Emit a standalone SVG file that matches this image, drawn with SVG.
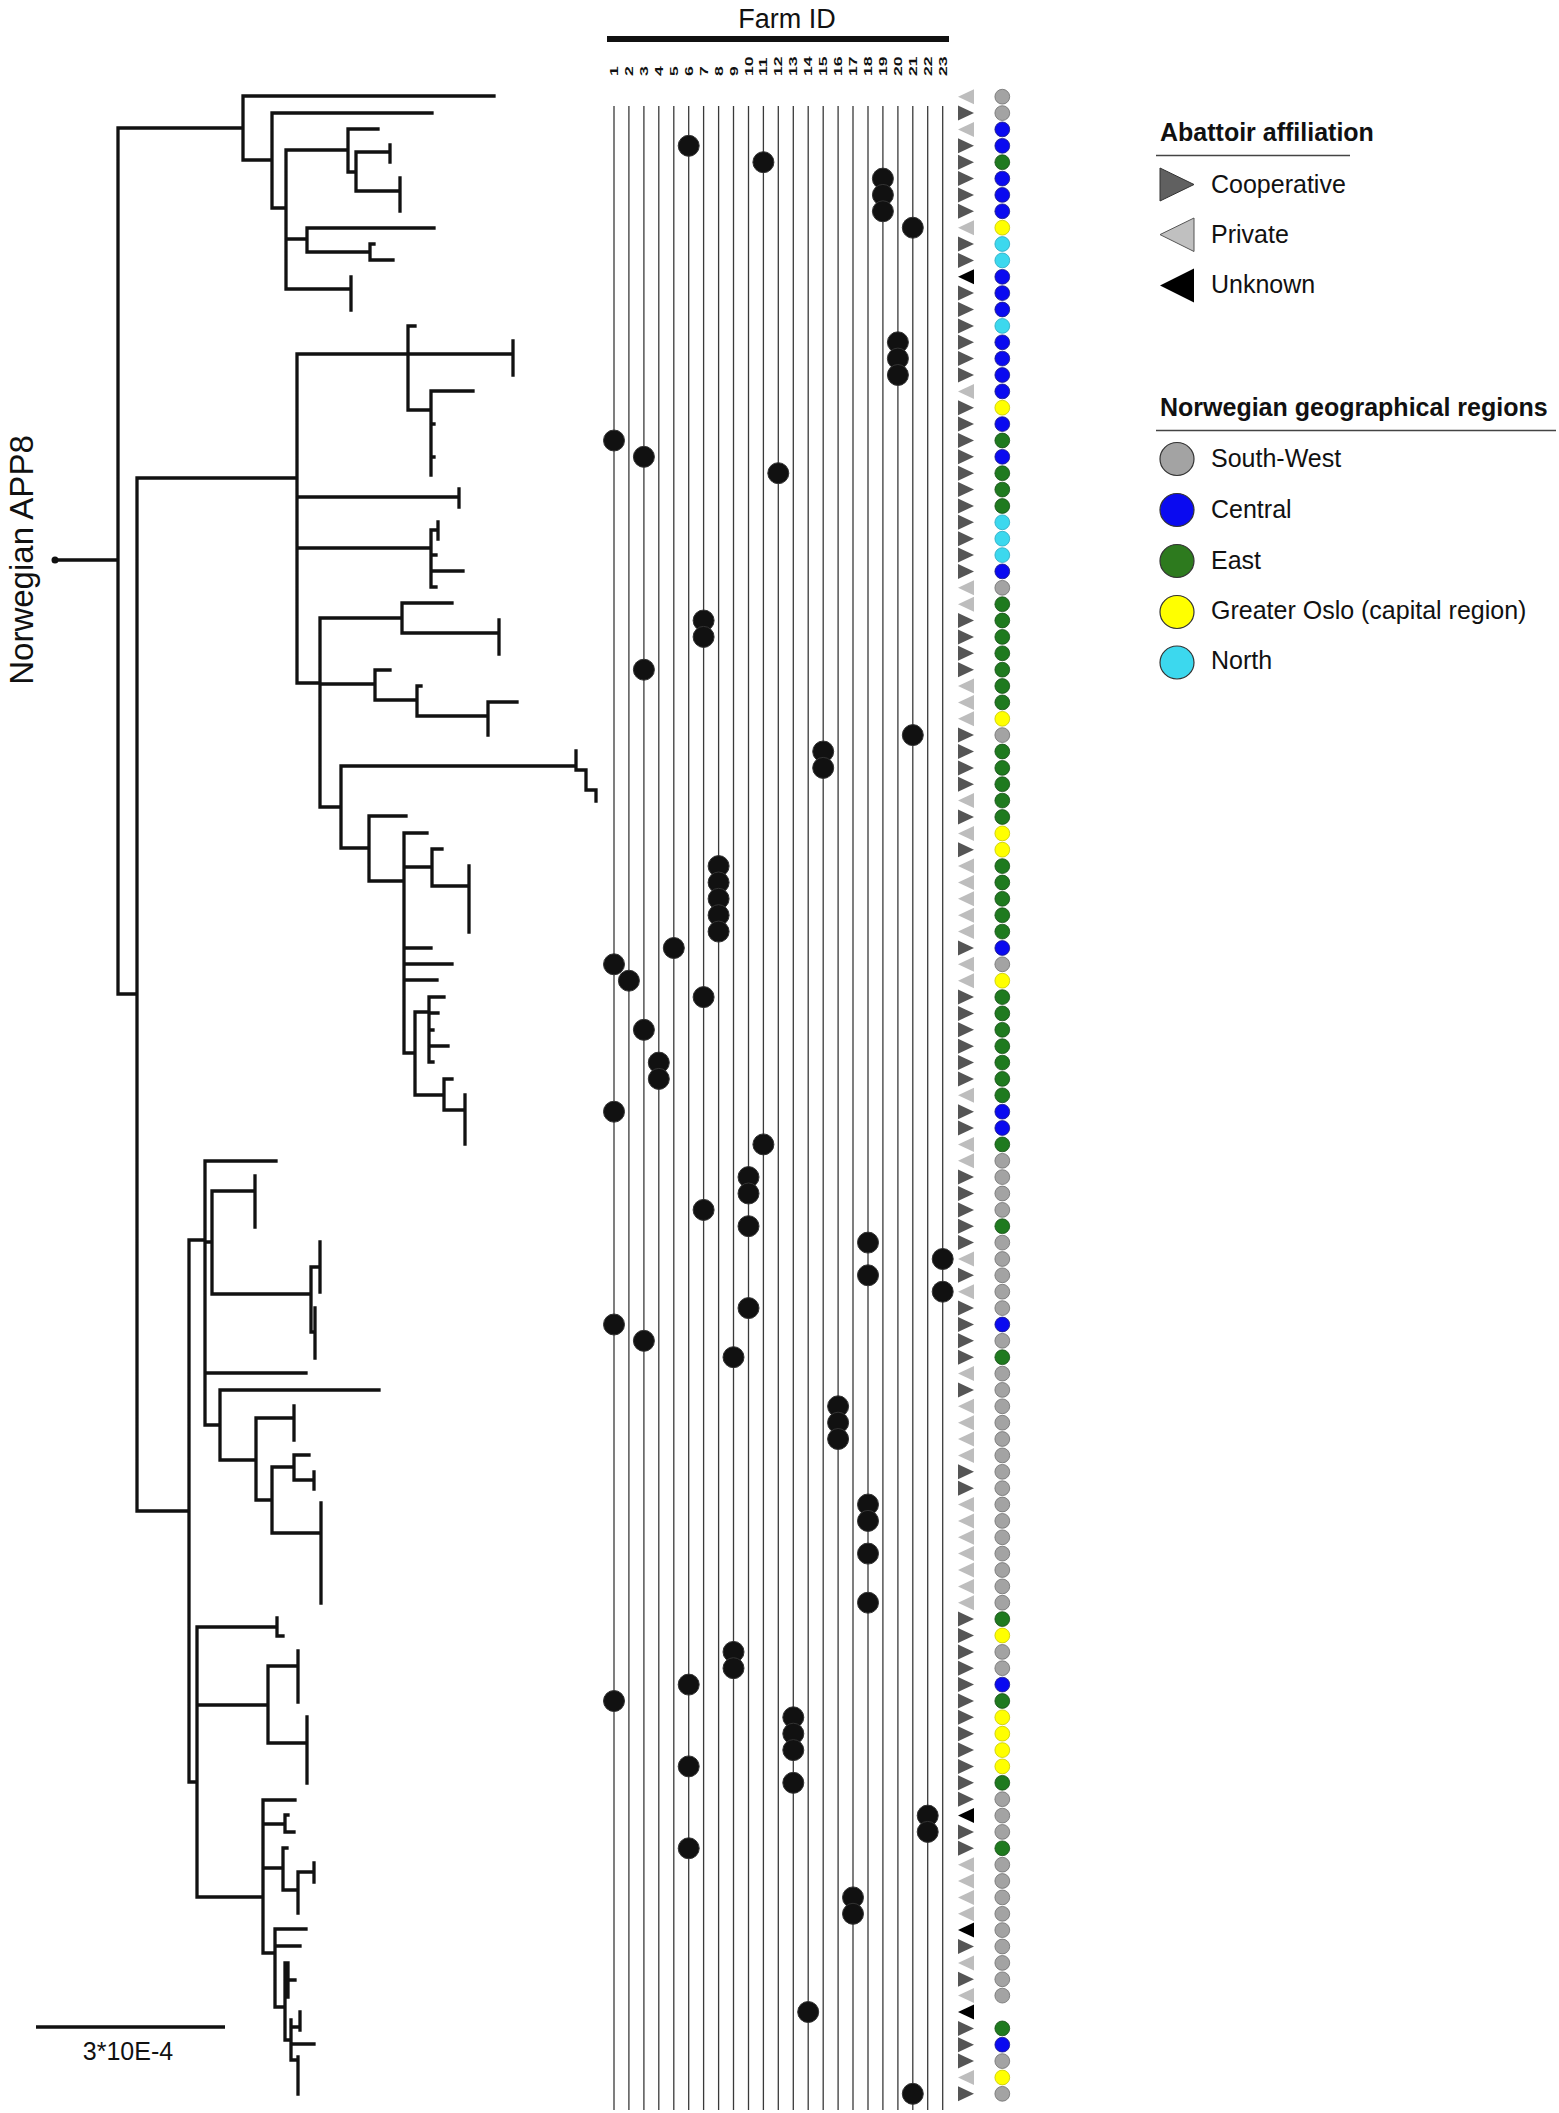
<svg xmlns="http://www.w3.org/2000/svg" width="1559" height="2113" viewBox="0 0 1559 2113">
<style>
text{font-family:"Liberation Sans",Arial,sans-serif;fill:#111}
.tree{fill:none;stroke:#111;stroke-width:3.3;stroke-linecap:square}
.grid line{stroke:#3a3a3a;stroke-width:1.3}
.dot{fill:#111;stroke:#333;stroke-width:1}
.num{font-size:11px;font-weight:bold}
.lg{font-size:25px}
.lgb{font-size:25px;font-weight:bold}
.sw{fill:#a3a3a3;stroke:#6e6e6e;stroke-width:0.8}
.ce{fill:#0a0af0;stroke:#1a1a80;stroke-width:0.8}
.ea{fill:#1f7a1f;stroke:#174d17;stroke-width:0.8}
.go{fill:#ffff00;stroke:#c8c800;stroke-width:0.8}
.no{fill:#3cd8ee;stroke:#2aa8c0;stroke-width:0.8}
</style>
<defs>
<path id="tc" d="M-8,-7.5 L8,0 L-8,7.5Z" fill="#555"/>
<path id="tp" d="M8,-7.5 L-8,0 L8,7.5Z" fill="#bdbdbd"/>
<path id="tu" d="M8,-7.5 L-8,0 L8,7.5Z" fill="#000"/>
</defs>
<rect width="1559" height="2113" fill="#fff"/>

<g id="tree">
<text transform="translate(33,560) rotate(-90)" text-anchor="middle" font-size="33">Norwegian APP8</text>
<circle cx="55" cy="560" r="3.5" fill="#111"/>
<path class="tree" d="M55 560H118 M118 128V994
M118 128H243 M243 96V160 M243 96H494 M243 160H272 M272 113V208 M272 113H432 M272 208H286 M286 150V289
M286 150H348 M348 129V172 M348 129H378 M348 172H356 M356 152V191 M356 152H390 M390 145V162 M356 191H400 M400 178V211
M286 239H307 M307 228V252 M307 228H434 M307 252H370 M370 244V260 M370 260H393 M370 244H374
M286 289H351 M351 277V310
M118 994H137 M137 478V1511 M137 478H297 M297 354V683
M297 354H408 M408 326V410 M408 326H415 M408 354H513 M513 341V375 M408 410H431 M431 391V475 M431 391H473 M431 424H434 M431 457H434
M297 497H459 M459 489V507
M297 548H431 M431 530V587 M431 530H438 M438 522V539 M431 555H436 M431 571H463 M431 587H436
M297 683H320 M320 618V807
M320 618H402 M402 603V633 M402 603H452 M402 633H499 M499 620V654
M320 684H375 M375 670V700 M375 670H390 M375 700H417 M417 686V716 M417 686H421 M417 716H488 M488 702V735 M488 702H517
M320 807H341 M341 766V848 M341 766H576 M576 751V770 M576 770H586 M586 770V790 M586 790H596 M596 790V801
M341 848H369 M369 816V881 M369 816H406 M369 881H404 M404 833V1053
M404 833H427 M404 867H432 M432 849V886 M432 849H442 M432 886H469 M469 866V932
M404 948H431 M404 964H452 M404 980H437
M404 1053H415 M415 1012V1095 M415 1012H429 M429 997V1062 M429 997H444 M429 1013H438 M429 1030H433 M429 1046H448 M429 1062H433
M415 1095H444 M444 1079V1110 M444 1079H452 M444 1110H465 M465 1095V1144
M137 1511H189 M189 1240V1782
M189 1240H205 M205 1161V1425 M205 1161H276 M205 1242H212 M212 1191V1294 M212 1191H255 M255 1176V1227
M212 1294H311 M311 1267V1332 M311 1267H320 M320 1242V1292 M311 1332H315 M315 1308V1358
M205 1373H306
M205 1425H220 M220 1390V1460 M220 1390H379 M220 1460H256 M256 1418V1500 M256 1418H294 M294 1406V1440
M256 1500H272 M272 1467V1533 M272 1467H294 M294 1455V1480 M294 1455H309 M294 1480H314 M314 1472V1489
M272 1533H321 M321 1503V1603
M189 1782H197 M197 1627V1897
M197 1627H277 M277 1618V1636 M277 1636H283
M197 1705H268 M268 1666V1743 M268 1666H298 M298 1651V1702 M268 1743H306 M307 1717V1783
M197 1897H263 M263 1800V1953 M263 1800H295 M263 1824H285 M285 1815V1832 M285 1832H294 M285 1815H288
M263 1868H283 M283 1848V1890 M283 1848H287 M283 1890H298 M298 1872V1913 M298 1872H314 M314 1863V1882
M263 1953H275 M275 1929V2007 M275 1929H306 M275 1946H300 M275 2007H285
M285 1963V2040 M285 1963H288 M288 1963V1997 M288 1980H295 M285 2040H291 M291 2020V2060 M291 2027H300 M300 2012V2030 M291 2044H314 M291 2060H298 M298 2057V2094"/>
<line x1="36" y1="2027" x2="225" y2="2027" stroke="#111" stroke-width="3.5"/>
<text x="128" y="2060" text-anchor="middle" font-size="25">3*10E-4</text>
</g>

<g id="header">
<text x="787" y="28" text-anchor="middle" font-size="27">Farm ID</text>
<line x1="607" y1="39" x2="949" y2="39" stroke="#111" stroke-width="6"/>
<text class="num" transform="translate(618,76) rotate(-90) scale(1.6,1)">1</text>
<text class="num" transform="translate(632.9,76) rotate(-90) scale(1.6,1)">2</text>
<text class="num" transform="translate(647.9,76) rotate(-90) scale(1.6,1)">3</text>
<text class="num" transform="translate(662.8,76) rotate(-90) scale(1.6,1)">4</text>
<text class="num" transform="translate(677.8,76) rotate(-90) scale(1.6,1)">5</text>
<text class="num" transform="translate(692.7,76) rotate(-90) scale(1.6,1)">6</text>
<text class="num" transform="translate(707.6,76) rotate(-90) scale(1.6,1)">7</text>
<text class="num" transform="translate(722.6,76) rotate(-90) scale(1.6,1)">8</text>
<text class="num" transform="translate(737.5,76) rotate(-90) scale(1.6,1)">9</text>
<text class="num" transform="translate(752.5,76) rotate(-90) scale(1.6,1)">10</text>
<text class="num" transform="translate(767.4,76) rotate(-90) scale(1.6,1)">11</text>
<text class="num" transform="translate(782.3,76) rotate(-90) scale(1.6,1)">12</text>
<text class="num" transform="translate(797.3,76) rotate(-90) scale(1.6,1)">13</text>
<text class="num" transform="translate(812.2,76) rotate(-90) scale(1.6,1)">14</text>
<text class="num" transform="translate(827.2,76) rotate(-90) scale(1.6,1)">15</text>
<text class="num" transform="translate(842.1,76) rotate(-90) scale(1.6,1)">16</text>
<text class="num" transform="translate(857,76) rotate(-90) scale(1.6,1)">17</text>
<text class="num" transform="translate(872,76) rotate(-90) scale(1.6,1)">18</text>
<text class="num" transform="translate(886.9,76) rotate(-90) scale(1.6,1)">19</text>
<text class="num" transform="translate(901.9,76) rotate(-90) scale(1.6,1)">20</text>
<text class="num" transform="translate(916.8,76) rotate(-90) scale(1.6,1)">21</text>
<text class="num" transform="translate(931.7,76) rotate(-90) scale(1.6,1)">22</text>
<text class="num" transform="translate(946.7,76) rotate(-90) scale(1.6,1)">23</text>
</g>

<g id="grid" class="grid">
<line x1="614" y1="106" x2="614" y2="2110"/><line x1="628.9" y1="106" x2="628.9" y2="2110"/><line x1="643.9" y1="106" x2="643.9" y2="2110"/><line x1="658.8" y1="106" x2="658.8" y2="2110"/><line x1="673.8" y1="106" x2="673.8" y2="2110"/><line x1="688.7" y1="106" x2="688.7" y2="2110"/><line x1="703.6" y1="106" x2="703.6" y2="2110"/><line x1="718.6" y1="106" x2="718.6" y2="2110"/><line x1="733.5" y1="106" x2="733.5" y2="2110"/><line x1="748.5" y1="106" x2="748.5" y2="2110"/><line x1="763.4" y1="106" x2="763.4" y2="2110"/><line x1="778.3" y1="106" x2="778.3" y2="2110"/><line x1="793.3" y1="106" x2="793.3" y2="2110"/><line x1="808.2" y1="106" x2="808.2" y2="2110"/><line x1="823.2" y1="106" x2="823.2" y2="2110"/><line x1="838.1" y1="106" x2="838.1" y2="2110"/><line x1="853" y1="106" x2="853" y2="2110"/><line x1="868" y1="106" x2="868" y2="2110"/><line x1="882.9" y1="106" x2="882.9" y2="2110"/><line x1="897.9" y1="106" x2="897.9" y2="2110"/><line x1="912.8" y1="106" x2="912.8" y2="2110"/><line x1="927.7" y1="106" x2="927.7" y2="2110"/><line x1="942.7" y1="106" x2="942.7" y2="2110"/>
</g>

<g id="farm-dots">
<circle class="dot" cx="688.7" cy="145.8" r="10.5"/><circle class="dot" cx="763.4" cy="162.2" r="10.5"/><circle class="dot" cx="882.9" cy="178.6" r="10.5"/><circle class="dot" cx="882.9" cy="194.9" r="10.5"/><circle class="dot" cx="882.9" cy="211.3" r="10.5"/><circle class="dot" cx="912.8" cy="227.7" r="10.5"/><circle class="dot" cx="897.9" cy="342.3" r="10.5"/><circle class="dot" cx="897.9" cy="358.6" r="10.5"/><circle class="dot" cx="897.9" cy="375" r="10.5"/><circle class="dot" cx="614" cy="440.5" r="10.5"/><circle class="dot" cx="643.9" cy="456.8" r="10.5"/><circle class="dot" cx="778.3" cy="473.2" r="10.5"/>
<circle class="dot" cx="703.6" cy="620.5" r="10.5"/><circle class="dot" cx="703.6" cy="636.9" r="10.5"/><circle class="dot" cx="643.9" cy="669.7" r="10.5"/><circle class="dot" cx="912.8" cy="735.1" r="10.5"/><circle class="dot" cx="823.2" cy="751.5" r="10.5"/><circle class="dot" cx="823.2" cy="767.9" r="10.5"/><circle class="dot" cx="718.6" cy="866.1" r="10.5"/><circle class="dot" cx="718.6" cy="882.5" r="10.5"/><circle class="dot" cx="718.6" cy="898.8" r="10.5"/><circle class="dot" cx="718.6" cy="915.2" r="10.5"/><circle class="dot" cx="718.6" cy="931.6" r="10.5"/><circle class="dot" cx="673.8" cy="948" r="10.5"/><circle class="dot" cx="614" cy="964.3" r="10.5"/><circle class="dot" cx="628.9" cy="980.7" r="10.5"/><circle class="dot" cx="703.6" cy="997.1" r="10.5"/><circle class="dot" cx="643.9" cy="1029.8" r="10.5"/><circle class="dot" cx="658.8" cy="1062.6" r="10.5"/><circle class="dot" cx="658.8" cy="1078.9" r="10.5"/>
<circle class="dot" cx="614" cy="1111.7" r="10.5"/><circle class="dot" cx="763.4" cy="1144.4" r="10.5"/><circle class="dot" cx="748.5" cy="1177.1" r="10.5"/><circle class="dot" cx="748.5" cy="1193.5" r="10.5"/><circle class="dot" cx="703.6" cy="1209.9" r="10.5"/><circle class="dot" cx="748.5" cy="1226.2" r="10.5"/><circle class="dot" cx="868" cy="1242.6" r="10.5"/><circle class="dot" cx="942.7" cy="1259" r="10.5"/><circle class="dot" cx="868" cy="1275.3" r="10.5"/><circle class="dot" cx="942.7" cy="1291.7" r="10.5"/><circle class="dot" cx="748.5" cy="1308.1" r="10.5"/><circle class="dot" cx="614" cy="1324.5" r="10.5"/><circle class="dot" cx="643.9" cy="1340.8" r="10.5"/><circle class="dot" cx="733.5" cy="1357.2" r="10.5"/><circle class="dot" cx="838.1" cy="1406.3" r="10.5"/><circle class="dot" cx="838.1" cy="1422.7" r="10.5"/><circle class="dot" cx="838.1" cy="1439" r="10.5"/><circle class="dot" cx="868" cy="1504.5" r="10.5"/><circle class="dot" cx="868" cy="1520.9" r="10.5"/><circle class="dot" cx="868" cy="1553.6" r="10.5"/><circle class="dot" cx="868" cy="1602.7" r="10.5"/>
<circle class="dot" cx="733.5" cy="1651.9" r="10.5"/><circle class="dot" cx="733.5" cy="1668.2" r="10.5"/><circle class="dot" cx="688.7" cy="1684.6" r="10.5"/><circle class="dot" cx="614" cy="1701" r="10.5"/><circle class="dot" cx="793.3" cy="1717.3" r="10.5"/><circle class="dot" cx="793.3" cy="1733.7" r="10.5"/><circle class="dot" cx="793.3" cy="1750.1" r="10.5"/><circle class="dot" cx="688.7" cy="1766.4" r="10.5"/><circle class="dot" cx="793.3" cy="1782.8" r="10.5"/><circle class="dot" cx="927.7" cy="1815.6" r="10.5"/><circle class="dot" cx="927.7" cy="1831.9" r="10.5"/><circle class="dot" cx="688.7" cy="1848.3" r="10.5"/><circle class="dot" cx="853" cy="1897.4" r="10.5"/><circle class="dot" cx="853" cy="1913.8" r="10.5"/><circle class="dot" cx="808.2" cy="2012" r="10.5"/><circle class="dot" cx="912.8" cy="2093.8" r="10.5"/>
</g>

<g id="abattoir">
<use href="#tp" x="966" y="96.7"/><use href="#tc" x="966" y="113.1"/><use href="#tp" x="966" y="129.4"/><use href="#tc" x="966" y="145.8"/><use href="#tc" x="966" y="162.2"/><use href="#tc" x="966" y="178.6"/><use href="#tc" x="966" y="194.9"/><use href="#tc" x="966" y="211.3"/><use href="#tp" x="966" y="227.7"/><use href="#tc" x="966" y="244"/><use href="#tc" x="966" y="260.4"/><use href="#tu" x="966" y="276.8"/><use href="#tc" x="966" y="293.1"/><use href="#tc" x="966" y="309.5"/><use href="#tc" x="966" y="325.9"/><use href="#tc" x="966" y="342.3"/><use href="#tc" x="966" y="358.6"/><use href="#tc" x="966" y="375"/><use href="#tp" x="966" y="391.4"/><use href="#tc" x="966" y="407.7"/><use href="#tc" x="966" y="424.1"/><use href="#tc" x="966" y="440.5"/><use href="#tc" x="966" y="456.8"/><use href="#tc" x="966" y="473.2"/><use href="#tc" x="966" y="489.6"/><use href="#tc" x="966" y="506"/><use href="#tc" x="966" y="522.3"/><use href="#tc" x="966" y="538.7"/><use href="#tc" x="966" y="555.1"/><use href="#tc" x="966" y="571.4"/><use href="#tp" x="966" y="587.8"/>
<use href="#tp" x="966" y="604.2"/><use href="#tc" x="966" y="620.5"/><use href="#tc" x="966" y="636.9"/><use href="#tc" x="966" y="653.3"/><use href="#tc" x="966" y="669.7"/><use href="#tp" x="966" y="686"/><use href="#tp" x="966" y="702.4"/><use href="#tp" x="966" y="718.8"/><use href="#tc" x="966" y="735.1"/><use href="#tc" x="966" y="751.5"/><use href="#tc" x="966" y="767.9"/><use href="#tc" x="966" y="784.2"/><use href="#tp" x="966" y="800.6"/><use href="#tc" x="966" y="817"/><use href="#tp" x="966" y="833.4"/><use href="#tc" x="966" y="849.7"/><use href="#tp" x="966" y="866.1"/><use href="#tp" x="966" y="882.5"/><use href="#tp" x="966" y="898.8"/><use href="#tp" x="966" y="915.2"/><use href="#tp" x="966" y="931.6"/><use href="#tc" x="966" y="948"/><use href="#tp" x="966" y="964.3"/><use href="#tp" x="966" y="980.7"/><use href="#tc" x="966" y="997.1"/><use href="#tc" x="966" y="1013.4"/><use href="#tc" x="966" y="1029.8"/><use href="#tc" x="966" y="1046.2"/><use href="#tc" x="966" y="1062.6"/><use href="#tc" x="966" y="1078.9"/><use href="#tp" x="966" y="1095.3"/><use href="#tc" x="966" y="1111.7"/>
<use href="#tc" x="966" y="1128"/><use href="#tp" x="966" y="1144.4"/><use href="#tp" x="966" y="1160.8"/><use href="#tc" x="966" y="1177.1"/><use href="#tc" x="966" y="1193.5"/><use href="#tc" x="966" y="1209.9"/><use href="#tc" x="966" y="1226.2"/><use href="#tc" x="966" y="1242.6"/><use href="#tp" x="966" y="1259"/><use href="#tc" x="966" y="1275.3"/><use href="#tp" x="966" y="1291.7"/><use href="#tc" x="966" y="1308.1"/><use href="#tc" x="966" y="1324.5"/><use href="#tc" x="966" y="1340.8"/><use href="#tc" x="966" y="1357.2"/><use href="#tp" x="966" y="1373.6"/><use href="#tc" x="966" y="1389.9"/><use href="#tp" x="966" y="1406.3"/><use href="#tp" x="966" y="1422.7"/><use href="#tp" x="966" y="1439"/><use href="#tp" x="966" y="1455.4"/><use href="#tc" x="966" y="1471.8"/><use href="#tc" x="966" y="1488.2"/><use href="#tp" x="966" y="1504.5"/><use href="#tp" x="966" y="1520.9"/><use href="#tp" x="966" y="1537.3"/><use href="#tp" x="966" y="1553.6"/><use href="#tp" x="966" y="1570"/><use href="#tp" x="966" y="1586.4"/><use href="#tp" x="966" y="1602.7"/>
<use href="#tc" x="966" y="1619.1"/><use href="#tc" x="966" y="1635.5"/><use href="#tc" x="966" y="1651.9"/><use href="#tc" x="966" y="1668.2"/><use href="#tc" x="966" y="1684.6"/><use href="#tc" x="966" y="1701"/><use href="#tc" x="966" y="1717.3"/><use href="#tc" x="966" y="1733.7"/><use href="#tc" x="966" y="1750.1"/><use href="#tc" x="966" y="1766.4"/><use href="#tc" x="966" y="1782.8"/><use href="#tc" x="966" y="1799.2"/><use href="#tu" x="966" y="1815.6"/><use href="#tc" x="966" y="1831.9"/><use href="#tc" x="966" y="1848.3"/><use href="#tp" x="966" y="1864.7"/><use href="#tp" x="966" y="1881"/><use href="#tp" x="966" y="1897.4"/><use href="#tp" x="966" y="1913.8"/><use href="#tu" x="966" y="1930.1"/><use href="#tc" x="966" y="1946.5"/><use href="#tp" x="966" y="1962.9"/><use href="#tc" x="966" y="1979.3"/><use href="#tp" x="966" y="1995.6"/><use href="#tu" x="966" y="2012"/><use href="#tc" x="966" y="2028.4"/><use href="#tc" x="966" y="2044.7"/><use href="#tc" x="966" y="2061.1"/><use href="#tp" x="966" y="2077.5"/><use href="#tc" x="966" y="2093.8"/>
</g>

<g id="regions">
<circle class="sw" cx="1002.3" cy="96.7" r="7.4"/><circle class="sw" cx="1002.3" cy="113.1" r="7.4"/><circle class="ce" cx="1002.3" cy="129.4" r="7.4"/><circle class="ce" cx="1002.3" cy="145.8" r="7.4"/><circle class="ea" cx="1002.3" cy="162.2" r="7.4"/><circle class="ce" cx="1002.3" cy="178.6" r="7.4"/><circle class="ce" cx="1002.3" cy="194.9" r="7.4"/><circle class="ce" cx="1002.3" cy="211.3" r="7.4"/><circle class="go" cx="1002.3" cy="227.7" r="7.4"/><circle class="no" cx="1002.3" cy="244" r="7.4"/><circle class="no" cx="1002.3" cy="260.4" r="7.4"/><circle class="ce" cx="1002.3" cy="276.8" r="7.4"/><circle class="ce" cx="1002.3" cy="293.1" r="7.4"/><circle class="ce" cx="1002.3" cy="309.5" r="7.4"/><circle class="no" cx="1002.3" cy="325.9" r="7.4"/><circle class="ce" cx="1002.3" cy="342.3" r="7.4"/><circle class="ce" cx="1002.3" cy="358.6" r="7.4"/><circle class="ce" cx="1002.3" cy="375" r="7.4"/><circle class="ce" cx="1002.3" cy="391.4" r="7.4"/><circle class="go" cx="1002.3" cy="407.7" r="7.4"/><circle class="ce" cx="1002.3" cy="424.1" r="7.4"/><circle class="ea" cx="1002.3" cy="440.5" r="7.4"/><circle class="ce" cx="1002.3" cy="456.8" r="7.4"/><circle class="ea" cx="1002.3" cy="473.2" r="7.4"/><circle class="ea" cx="1002.3" cy="489.6" r="7.4"/><circle class="ea" cx="1002.3" cy="506" r="7.4"/><circle class="no" cx="1002.3" cy="522.3" r="7.4"/><circle class="no" cx="1002.3" cy="538.7" r="7.4"/><circle class="no" cx="1002.3" cy="555.1" r="7.4"/><circle class="ce" cx="1002.3" cy="571.4" r="7.4"/><circle class="sw" cx="1002.3" cy="587.8" r="7.4"/>
<circle class="ea" cx="1002.3" cy="604.2" r="7.4"/><circle class="ea" cx="1002.3" cy="620.5" r="7.4"/><circle class="ea" cx="1002.3" cy="636.9" r="7.4"/><circle class="ea" cx="1002.3" cy="653.3" r="7.4"/><circle class="ea" cx="1002.3" cy="669.7" r="7.4"/><circle class="ea" cx="1002.3" cy="686" r="7.4"/><circle class="ea" cx="1002.3" cy="702.4" r="7.4"/><circle class="go" cx="1002.3" cy="718.8" r="7.4"/><circle class="sw" cx="1002.3" cy="735.1" r="7.4"/><circle class="ea" cx="1002.3" cy="751.5" r="7.4"/><circle class="ea" cx="1002.3" cy="767.9" r="7.4"/><circle class="ea" cx="1002.3" cy="784.2" r="7.4"/><circle class="ea" cx="1002.3" cy="800.6" r="7.4"/><circle class="ea" cx="1002.3" cy="817" r="7.4"/><circle class="go" cx="1002.3" cy="833.4" r="7.4"/><circle class="go" cx="1002.3" cy="849.7" r="7.4"/><circle class="ea" cx="1002.3" cy="866.1" r="7.4"/><circle class="ea" cx="1002.3" cy="882.5" r="7.4"/><circle class="ea" cx="1002.3" cy="898.8" r="7.4"/><circle class="ea" cx="1002.3" cy="915.2" r="7.4"/><circle class="ea" cx="1002.3" cy="931.6" r="7.4"/><circle class="ce" cx="1002.3" cy="948" r="7.4"/><circle class="sw" cx="1002.3" cy="964.3" r="7.4"/><circle class="go" cx="1002.3" cy="980.7" r="7.4"/><circle class="ea" cx="1002.3" cy="997.1" r="7.4"/><circle class="ea" cx="1002.3" cy="1013.4" r="7.4"/><circle class="ea" cx="1002.3" cy="1029.8" r="7.4"/><circle class="ea" cx="1002.3" cy="1046.2" r="7.4"/><circle class="ea" cx="1002.3" cy="1062.6" r="7.4"/><circle class="ea" cx="1002.3" cy="1078.9" r="7.4"/><circle class="ea" cx="1002.3" cy="1095.3" r="7.4"/><circle class="ce" cx="1002.3" cy="1111.7" r="7.4"/>
<circle class="ce" cx="1002.3" cy="1128" r="7.4"/><circle class="ea" cx="1002.3" cy="1144.4" r="7.4"/><circle class="sw" cx="1002.3" cy="1160.8" r="7.4"/><circle class="sw" cx="1002.3" cy="1177.1" r="7.4"/><circle class="sw" cx="1002.3" cy="1193.5" r="7.4"/><circle class="sw" cx="1002.3" cy="1209.9" r="7.4"/><circle class="ea" cx="1002.3" cy="1226.2" r="7.4"/><circle class="sw" cx="1002.3" cy="1242.6" r="7.4"/><circle class="sw" cx="1002.3" cy="1259" r="7.4"/><circle class="sw" cx="1002.3" cy="1275.3" r="7.4"/><circle class="sw" cx="1002.3" cy="1291.7" r="7.4"/><circle class="sw" cx="1002.3" cy="1308.1" r="7.4"/><circle class="ce" cx="1002.3" cy="1324.5" r="7.4"/><circle class="sw" cx="1002.3" cy="1340.8" r="7.4"/><circle class="ea" cx="1002.3" cy="1357.2" r="7.4"/><circle class="sw" cx="1002.3" cy="1373.6" r="7.4"/><circle class="sw" cx="1002.3" cy="1389.9" r="7.4"/><circle class="sw" cx="1002.3" cy="1406.3" r="7.4"/><circle class="sw" cx="1002.3" cy="1422.7" r="7.4"/><circle class="sw" cx="1002.3" cy="1439" r="7.4"/><circle class="sw" cx="1002.3" cy="1455.4" r="7.4"/><circle class="sw" cx="1002.3" cy="1471.8" r="7.4"/><circle class="sw" cx="1002.3" cy="1488.2" r="7.4"/><circle class="sw" cx="1002.3" cy="1504.5" r="7.4"/><circle class="sw" cx="1002.3" cy="1520.9" r="7.4"/><circle class="sw" cx="1002.3" cy="1537.3" r="7.4"/><circle class="sw" cx="1002.3" cy="1553.6" r="7.4"/><circle class="sw" cx="1002.3" cy="1570" r="7.4"/><circle class="sw" cx="1002.3" cy="1586.4" r="7.4"/><circle class="sw" cx="1002.3" cy="1602.7" r="7.4"/>
<circle class="ea" cx="1002.3" cy="1619.1" r="7.4"/><circle class="go" cx="1002.3" cy="1635.5" r="7.4"/><circle class="sw" cx="1002.3" cy="1651.9" r="7.4"/><circle class="sw" cx="1002.3" cy="1668.2" r="7.4"/><circle class="ce" cx="1002.3" cy="1684.6" r="7.4"/><circle class="ea" cx="1002.3" cy="1701" r="7.4"/><circle class="go" cx="1002.3" cy="1717.3" r="7.4"/><circle class="go" cx="1002.3" cy="1733.7" r="7.4"/><circle class="go" cx="1002.3" cy="1750.1" r="7.4"/><circle class="go" cx="1002.3" cy="1766.4" r="7.4"/><circle class="ea" cx="1002.3" cy="1782.8" r="7.4"/><circle class="sw" cx="1002.3" cy="1799.2" r="7.4"/><circle class="sw" cx="1002.3" cy="1815.6" r="7.4"/><circle class="sw" cx="1002.3" cy="1831.9" r="7.4"/><circle class="ea" cx="1002.3" cy="1848.3" r="7.4"/><circle class="sw" cx="1002.3" cy="1864.7" r="7.4"/><circle class="sw" cx="1002.3" cy="1881" r="7.4"/><circle class="sw" cx="1002.3" cy="1897.4" r="7.4"/><circle class="sw" cx="1002.3" cy="1913.8" r="7.4"/><circle class="sw" cx="1002.3" cy="1930.1" r="7.4"/><circle class="sw" cx="1002.3" cy="1946.5" r="7.4"/><circle class="sw" cx="1002.3" cy="1962.9" r="7.4"/><circle class="sw" cx="1002.3" cy="1979.3" r="7.4"/><circle class="sw" cx="1002.3" cy="1995.6" r="7.4"/><circle class="ea" cx="1002.3" cy="2028.4" r="7.4"/><circle class="ce" cx="1002.3" cy="2044.7" r="7.4"/><circle class="sw" cx="1002.3" cy="2061.1" r="7.4"/><circle class="go" cx="1002.3" cy="2077.5" r="7.4"/><circle class="sw" cx="1002.3" cy="2093.8" r="7.4"/>
</g>

<g id="legend-abattoir">
<text class="lgb" x="1160" y="141">Abattoir affiliation</text>
<line x1="1156" y1="155.5" x2="1350" y2="155.5" stroke="#444" stroke-width="1.5"/>
<path d="M1160 168L1194 184.5L1160 201Z" fill="#606060" stroke="#333" stroke-width="1"/>
<text class="lg" x="1211" y="193">Cooperative</text>
<path d="M1194 218L1160 234.6L1194 251.5Z" fill="#c0c0c0" stroke="#555" stroke-width="1"/>
<text class="lg" x="1211" y="243">Private</text>
<path d="M1194 268.5L1160 285.5L1194 302.5Z" fill="#000"/>
<text class="lg" x="1211" y="293">Unknown</text>
</g>

<g id="legend-regions">
<text class="lgb" x="1160" y="416">Norwegian geographical regions</text>
<line x1="1156" y1="430.5" x2="1556" y2="430.5" stroke="#444" stroke-width="1.5"/>
<ellipse cx="1177" cy="459" rx="17" ry="16.5" fill="#a3a3a3" stroke="#333" stroke-width="1.2"/>
<text class="lg" x="1211" y="467">South-West</text>
<ellipse cx="1177" cy="510" rx="17" ry="16.5" fill="#0a0af0" stroke="#333" stroke-width="1.2"/>
<text class="lg" x="1211" y="517.5">Central</text>
<ellipse cx="1177" cy="561" rx="17" ry="16.5" fill="#2d7a1e" stroke="#333" stroke-width="1.2"/>
<text class="lg" x="1211" y="568.5">East</text>
<ellipse cx="1177" cy="612" rx="17" ry="16.5" fill="#ffff00" stroke="#333" stroke-width="1.2"/>
<text class="lg" x="1211" y="618.5">Greater Oslo (capital region)</text>
<ellipse cx="1177" cy="662.5" rx="17" ry="16.5" fill="#3cd8ee" stroke="#333" stroke-width="1.2"/>
<text class="lg" x="1211" y="668.5">North</text>
</g>
</svg>
